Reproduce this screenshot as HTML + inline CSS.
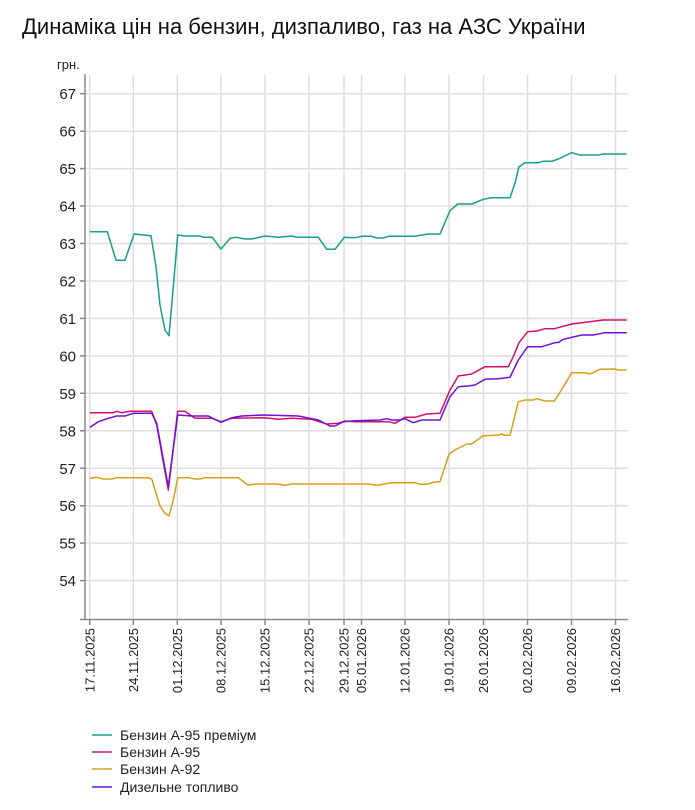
<!DOCTYPE html>
<html><head><meta charset="utf-8"><style>
body{margin:0;background:#fff;}
svg{display:block;font-family:"Liberation Sans",sans-serif;}
</style></head><body>
<svg width="695" height="810" viewBox="0 0 695 810" xmlns="http://www.w3.org/2000/svg">
<text x="22" y="34" font-size="22" fill="#111">Динаміка цін на бензин, дизпаливо, газ на АЗС України</text>
<text x="57" y="69" font-size="13" fill="#222">грн.</text>
<g stroke="#dedede" stroke-width="1.5">
<line x1="86" x2="628" y1="93.7" y2="93.7"/><line x1="86" x2="628" y1="131.2" y2="131.2"/><line x1="86" x2="628" y1="168.6" y2="168.6"/><line x1="86" x2="628" y1="206" y2="206"/><line x1="86" x2="628" y1="243.5" y2="243.5"/><line x1="86" x2="628" y1="281" y2="281"/><line x1="86" x2="628" y1="318.4" y2="318.4"/><line x1="86" x2="628" y1="355.9" y2="355.9"/><line x1="86" x2="628" y1="393.3" y2="393.3"/><line x1="86" x2="628" y1="430.8" y2="430.8"/><line x1="86" x2="628" y1="468.2" y2="468.2"/><line x1="86" x2="628" y1="505.7" y2="505.7"/><line x1="86" x2="628" y1="543.1" y2="543.1"/><line x1="86" x2="628" y1="580.6" y2="580.6"/>
<g>
<line x1="89.7" x2="89.7" y1="75" y2="619"/><line x1="133.3" x2="133.3" y1="75" y2="619"/><line x1="177.3" x2="177.3" y1="75" y2="619"/><line x1="221" x2="221" y1="75" y2="619"/><line x1="265" x2="265" y1="75" y2="619"/><line x1="309" x2="309" y1="75" y2="619"/><line x1="344" x2="344" y1="75" y2="619"/><line x1="361.5" x2="361.5" y1="75" y2="619"/><line x1="405" x2="405" y1="75" y2="619"/><line x1="449" x2="449" y1="75" y2="619"/><line x1="483.5" x2="483.5" y1="75" y2="619"/><line x1="527.5" x2="527.5" y1="75" y2="619"/><line x1="571.5" x2="571.5" y1="75" y2="619"/><line x1="615.5" x2="615.5" y1="75" y2="619"/>
</g></g>
<g stroke="#888" stroke-width="1.5">
<line x1="85" x2="85" y1="74" y2="620"/><line x1="80" x2="628" y1="619.5" y2="619.5"/>
<line x1="80" x2="85" y1="93.7" y2="93.7"/><line x1="80" x2="85" y1="131.2" y2="131.2"/><line x1="80" x2="85" y1="168.6" y2="168.6"/><line x1="80" x2="85" y1="206" y2="206"/><line x1="80" x2="85" y1="243.5" y2="243.5"/><line x1="80" x2="85" y1="281" y2="281"/><line x1="80" x2="85" y1="318.4" y2="318.4"/><line x1="80" x2="85" y1="355.9" y2="355.9"/><line x1="80" x2="85" y1="393.3" y2="393.3"/><line x1="80" x2="85" y1="430.8" y2="430.8"/><line x1="80" x2="85" y1="468.2" y2="468.2"/><line x1="80" x2="85" y1="505.7" y2="505.7"/><line x1="80" x2="85" y1="543.1" y2="543.1"/><line x1="80" x2="85" y1="580.6" y2="580.6"/>
<line x1="89.7" x2="89.7" y1="619" y2="625"/><line x1="133.3" x2="133.3" y1="619" y2="625"/><line x1="177.3" x2="177.3" y1="619" y2="625"/><line x1="221" x2="221" y1="619" y2="625"/><line x1="265" x2="265" y1="619" y2="625"/><line x1="309" x2="309" y1="619" y2="625"/><line x1="344" x2="344" y1="619" y2="625"/><line x1="361.5" x2="361.5" y1="619" y2="625"/><line x1="405" x2="405" y1="619" y2="625"/><line x1="449" x2="449" y1="619" y2="625"/><line x1="483.5" x2="483.5" y1="619" y2="625"/><line x1="527.5" x2="527.5" y1="619" y2="625"/><line x1="571.5" x2="571.5" y1="619" y2="625"/><line x1="615.5" x2="615.5" y1="619" y2="625"/>
</g>
<g font-size="15" fill="#222" text-anchor="end">
<text x="76" y="99">67</text><text x="76" y="136.5">66</text><text x="76" y="174">65</text><text x="76" y="211.5">64</text><text x="76" y="249">63</text><text x="76" y="286.5">62</text><text x="76" y="324">61</text><text x="76" y="361.5">60</text><text x="76" y="399">59</text><text x="76" y="436.5">58</text><text x="76" y="474">57</text><text x="76" y="511">56</text><text x="76" y="548.5">55</text><text x="76" y="586">54</text>
</g>
<g font-size="13" fill="#222" text-anchor="end">
<text transform="translate(94.5,628) rotate(-90)">17.11.2025</text>
<text transform="translate(138,628) rotate(-90)">24.11.2025</text>
<text transform="translate(182,628) rotate(-90)">01.12.2025</text>
<text transform="translate(225.7,628) rotate(-90)">08.12.2025</text>
<text transform="translate(269.7,628) rotate(-90)">15.12.2025</text>
<text transform="translate(313.7,628) rotate(-90)">22.12.2025</text>
<text transform="translate(348.7,628) rotate(-90)">29.12.2025</text>
<text transform="translate(366.2,628) rotate(-90)">05.01.2026</text>
<text transform="translate(409.7,628) rotate(-90)">12.01.2026</text>
<text transform="translate(453.7,628) rotate(-90)">19.01.2026</text>
<text transform="translate(488.2,628) rotate(-90)">26.01.2026</text>
<text transform="translate(532.2,628) rotate(-90)">02.02.2026</text>
<text transform="translate(576.2,628) rotate(-90)">09.02.2026</text>
<text transform="translate(620.2,628) rotate(-90)">16.02.2026</text>
</g>
<g fill="none" stroke-width="1.5" stroke-linejoin="round">
<polyline stroke="#17a085" points="90,231.7 107.3,231.7 116,260.3 125,260.3 134,234 143.3,235 151,235.7 156,266.7 160,305 165,330 169,335.7 173.3,286.7 177.7,235 185,236 200,236 203.3,237.3 212.3,237.3 221,249 230,238.3 236.7,237.3 245,239 251.7,239 265,236 278.3,237.3 291.7,236 296.7,237.3 318.3,237.3 326.7,249.3 335,249.3 344.3,237.3 355,237.7 361.7,236.3 371.7,236.3 376.7,238 383.3,238 388.3,236.3 415,236.3 428.3,234 440,234 450,210.7 457.7,204 471.7,204 483.3,199.3 491.7,197.7 510,197.7 515,183.3 519,166.7 525,162.7 538.3,162.7 543.3,161.3 551.7,161.3 558.3,159 571.7,152.7 580,155 598.3,155 603.3,154 626.7,154"/>
<polyline stroke="#d4a017" points="90,478.3 96.7,477.3 103.3,479 111.7,479 116.7,477.7 148.3,477.7 151.7,479 160,506 165,513.3 169,516 173.3,500 177.7,477.7 188.3,477.7 195,479 200,479 205,477.7 238.3,477.7 247.7,485 256.7,484 276.7,484 285,485.3 291.7,484 355,484 368.3,484 376.7,485.3 391.7,482.7 415,482.7 420,484.3 426.7,484.3 433.3,482.3 440,481.7 445,466.7 449,454 455,450 466.7,444 471.7,444 483.3,435.7 498.3,435.3 501.7,434 505,435.3 510,435.3 518.3,401.7 525,400 533.3,400 536.7,398.7 545,401 554.3,401 559,394 571.7,372.7 585,372.7 590,374 600,369.3 615,369 618.3,370 626.7,370"/>
<polyline stroke="#d0106a" points="90,412.7 113.3,412.7 116.7,411.3 121.7,412.7 130,411.3 151.7,411.3 156.7,425 168.3,490 177.7,411.3 185,411.3 195,418.3 211.7,418.3 221,421.7 231.7,418.3 265,417.7 278.3,419.3 291.7,418.3 311.7,419.3 326.7,424 338.3,423.3 345,421 355,421.7 388.3,421.7 395,423.3 405,417.3 415,417.3 426.7,414 440,413.3 450,390 458.3,376 471.7,374 485,366.7 508.3,366.7 513.3,356.7 519,342.7 527.7,331.7 536.7,331 545,328.7 554.3,328.7 571.7,324 581.7,322.7 603.3,320 626.7,320"/>
<polyline stroke="#7010d8" points="90,427.3 98.3,421.7 108.3,418.3 116.7,416 125,416 133.3,413.3 151.7,413.3 156.7,423.3 168.3,486.7 177.7,415 191.7,416 198.3,416 208.3,416 221,422.3 231.7,417.7 241.7,416 263.3,415 298.3,416 318.3,420 330,426 335,426 343.3,421.7 355,420.7 380,420 386.7,418.7 391.7,420 400,420 405,418.7 413.3,422.7 421.7,420 440,420 450,396.7 458.3,386.7 468.3,386 475,385 485,379.3 498.3,378.7 510,377.3 518.3,360 527.7,346.7 541.7,346.7 555,342.7 559,342.3 563.3,339.3 581.7,335 593.3,335 605,332.7 626.7,332.7"/>
</g>
<g stroke-width="1.5">
<line x1="92" x2="112" y1="735" y2="735" stroke="#17a085"/>
<line x1="92" x2="112" y1="752" y2="752" stroke="#d0106a"/>
<line x1="92" x2="112" y1="769" y2="769" stroke="#d4a017"/>
<line x1="92" x2="112" y1="787" y2="787" stroke="#7010d8"/>
</g>
<g font-size="14" fill="#222">
<text x="120" y="740">Бензин А-95 преміум</text>
<text x="120" y="757">Бензин А-95</text>
<text x="120" y="774">Бензин А-92</text>
<text x="120" y="792">Дизельне топливо</text>
</g>
</svg>
</body></html>
